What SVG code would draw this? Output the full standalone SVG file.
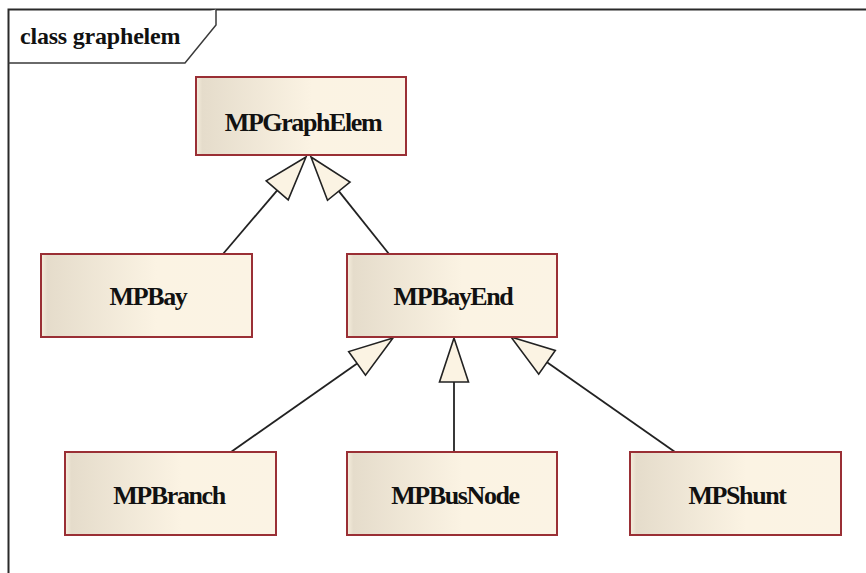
<svg xmlns="http://www.w3.org/2000/svg" width="866" height="573" viewBox="0 0 866 573">
  <defs>
    <linearGradient id="fillGrad" x1="0" y1="0" x2="1" y2="0">
      <stop offset="0" stop-color="#f6eedd"/>
      <stop offset="0.03" stop-color="#e5dccb"/>
      <stop offset="0.55" stop-color="#fbf3e3"/>
      <stop offset="1" stop-color="#fbf3e4"/>
    </linearGradient>
    <style>
      .frame { fill: none; stroke: #2a2a2a; stroke-width: 2; }
      .tab { fill: #ffffff; stroke: #3a3a3a; stroke-width: 1.5; }
      .title { font-family: 'Liberation Serif', 'Times New Roman', serif; font-weight: bold; font-size: 24px; letter-spacing: -0.2px; fill: #111; }
      .box { fill: url(#fillGrad); stroke: #9a2f35; stroke-width: 2; }
      .label { font-family: 'Liberation Serif', 'Times New Roman', serif; font-weight: bold; font-size: 26px; letter-spacing: -1.4px; fill: #111; text-anchor: middle; }
      .edge { fill: none; stroke: #222; stroke-width: 1.8; }
      .head { fill: #fbf3e3; stroke: #222; stroke-width: 1.6; stroke-linejoin: miter; }
    </style>
  </defs>

  <rect x="0" y="0" width="866" height="573" fill="#ffffff"/>

  <g id="frame">
    <path class="frame" d="M8.5,573 V9.5 H866"/>
    <path class="tab" d="M8.5,63 H185 L216,25 V9.5"/>
    <text class="title" x="20" y="44">class graphelem</text>
  </g>

  <g id="connectors">
    <line class="edge" x1="223" y1="254" x2="277.2" y2="190.3"/>
    <polygon class="head" points="306,157 266.2,180.8 288.2,199.8"/>
    <line class="edge" x1="389" y1="254" x2="338.8" y2="191.1"/>
    <polygon class="head" points="311,157 350,182 327.5,200.3"/>
    <line class="edge" x1="231" y1="452" x2="357.1" y2="363.4"/>
    <polygon class="head" points="393,338 348.7,351.6 365.5,375.2"/>
    <line class="edge" x1="454" y1="452" x2="454" y2="382"/>
    <polygon class="head" points="454,338 439.5,382 468.5,382"/>
    <line class="edge" x1="675" y1="452" x2="547" y2="362.3"/>
    <polygon class="head" points="511,337 555.3,350.4 538.7,374.2"/>
  </g>

  <g id="MPGraphElem">
    <rect class="box" x="196" y="77" width="210" height="78"/>
    <text class="label" x="303" y="131">MPGraphElem</text>
  </g>
  <g id="MPBay">
    <rect class="box" x="41" y="254" width="211" height="83"/>
    <text class="label" x="148" y="305">MPBay</text>
  </g>
  <g id="MPBayEnd">
    <rect class="box" x="347" y="254" width="210" height="83"/>
    <text class="label" x="453" y="305">MPBayEnd</text>
  </g>
  <g id="MPBranch">
    <rect class="box" x="65" y="452" width="211" height="83"/>
    <text class="label" x="169" y="504">MPBranch</text>
  </g>
  <g id="MPBusNode">
    <rect class="box" x="347" y="452" width="210" height="83"/>
    <text class="label" x="455" y="504">MPBusNode</text>
  </g>
  <g id="MPShunt">
    <rect class="box" x="630" y="452" width="211" height="83"/>
    <text class="label" x="737" y="504">MPShunt</text>
  </g>
</svg>
